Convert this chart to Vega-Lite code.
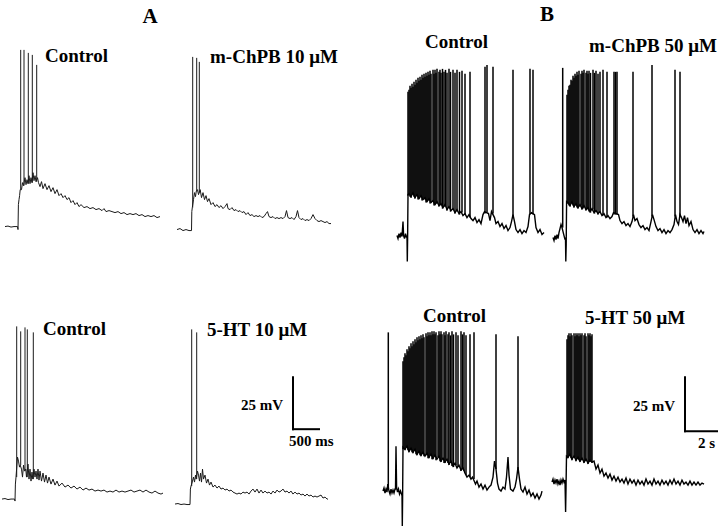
{
"$schema":"https://vega.github.io/schema/vega-lite/v6.json",
"width":721,"height":529,"padding":0,
"autosize":{"type":"fit","contains":"padding"},
"background":"white",
"config":{"view":{"stroke":null}},
"datasets":{
"traces":[
{"tr":"A1","x":5,"y":227},{"tr":"A1","x":8,"y":226.5},{"tr":"A1","x":11,"y":227.5},{"tr":"A1","x":14,"y":227},{"tr":"A1","x":17.5,"y":227},{"tr":"A1","x":18,"y":230},{"tr":"A1","x":18.4,"y":205},{"tr":"A1","x":19,"y":200},{"tr":"A1","x":19.6,"y":196},{"tr":"A1","x":20.2,"y":190},{"tr":"A1","x":21.5,"y":190},{"tr":"A1","x":22.5,"y":183},{"tr":"A1","x":23.5,"y":186},{"tr":"A1","x":25,"y":178},{"tr":"A1","x":26,"y":185},{"tr":"A1","x":27,"y":180},{"tr":"A1","x":28,"y":184},{"tr":"A1","x":29,"y":176},{"tr":"A1","x":30,"y":184},{"tr":"A1","x":31,"y":178},{"tr":"A1","x":32,"y":183},{"tr":"A1","x":33,"y":173},{"tr":"A1","x":34,"y":181},{"tr":"A1","x":35,"y":176},{"tr":"A1","x":36,"y":182},{"tr":"A1","x":37.5,"y":178},{"tr":"A1","x":38.5,"y":183},{"tr":"A1","x":40,"y":187},{"tr":"A1","x":41.5,"y":182},{"tr":"A1","x":43,"y":189},{"tr":"A1","x":45,"y":184},{"tr":"A1","x":47,"y":190},{"tr":"A1","x":49,"y":186},{"tr":"A1","x":51,"y":192},{"tr":"A1","x":53,"y":188},{"tr":"A1","x":55,"y":194},{"tr":"A1","x":57,"y":190},{"tr":"A1","x":59,"y":196},{"tr":"A1","x":61,"y":194},{"tr":"A1","x":63,"y":198},{"tr":"A1","x":65,"y":196},{"tr":"A1","x":67,"y":200},{"tr":"A1","x":69,"y":198},{"tr":"A1","x":71,"y":203},{"tr":"A1","x":73,"y":201},{"tr":"A1","x":75,"y":205},{"tr":"A1","x":77,"y":203},{"tr":"A1","x":79,"y":207},{"tr":"A1","x":81,"y":205},{"tr":"A1","x":84,"y":208},{"tr":"A1","x":87,"y":207},{"tr":"A1","x":90,"y":209},{"tr":"A1","x":93,"y":208},{"tr":"A1","x":96,"y":210},{"tr":"A1","x":99,"y":209},{"tr":"A1","x":102,"y":211},{"tr":"A1","x":104,"y":209},{"tr":"A1","x":106,"y":212},{"tr":"A1","x":109,"y":211},{"tr":"A1","x":112,"y":212},{"tr":"A1","x":115,"y":213},{"tr":"A1","x":118,"y":212},{"tr":"A1","x":121,"y":214},{"tr":"A1","x":124,"y":213},{"tr":"A1","x":127,"y":215},{"tr":"A1","x":130,"y":214},{"tr":"A1","x":133,"y":215},{"tr":"A1","x":136,"y":214},{"tr":"A1","x":139,"y":216},{"tr":"A1","x":142,"y":215},{"tr":"A1","x":145,"y":217},{"tr":"A1","x":148,"y":216},{"tr":"A1","x":151,"y":217},{"tr":"A1","x":154,"y":216},{"tr":"A1","x":157,"y":218},{"tr":"A1","x":160,"y":217},

{"tr":"A2","x":177,"y":230},{"tr":"A2","x":180,"y":229},{"tr":"A2","x":183,"y":231},{"tr":"A2","x":186,"y":230},{"tr":"A2","x":189,"y":231},{"tr":"A2","x":191.5,"y":231},{"tr":"A2","x":191.8,"y":212},{"tr":"A2","x":192.3,"y":208},{"tr":"A2","x":193.5,"y":200},{"tr":"A2","x":194.5,"y":193},{"tr":"A2","x":195.5,"y":197},{"tr":"A2","x":196.2,"y":192},{"tr":"A2","x":197.5,"y":190},{"tr":"A2","x":198.5,"y":195},{"tr":"A2","x":200.2,"y":190},{"tr":"A2","x":201.5,"y":198},{"tr":"A2","x":203,"y":193},{"tr":"A2","x":204.5,"y":200},{"tr":"A2","x":206,"y":196},{"tr":"A2","x":207.5,"y":202},{"tr":"A2","x":209,"y":199},{"tr":"A2","x":211,"y":205},{"tr":"A2","x":213,"y":203},{"tr":"A2","x":215,"y":207},{"tr":"A2","x":217,"y":205},{"tr":"A2","x":219,"y":208},{"tr":"A2","x":221,"y":206},{"tr":"A2","x":223,"y":209},{"tr":"A2","x":225,"y":207},{"tr":"A2","x":227,"y":204},{"tr":"A2","x":228,"y":209},{"tr":"A2","x":230,"y":210},{"tr":"A2","x":232,"y":208},{"tr":"A2","x":234,"y":211},{"tr":"A2","x":236,"y":210},{"tr":"A2","x":238,"y":212},{"tr":"A2","x":240,"y":211},{"tr":"A2","x":242,"y":213},{"tr":"A2","x":244,"y":212},{"tr":"A2","x":246,"y":215},{"tr":"A2","x":248,"y":213},{"tr":"A2","x":250,"y":216},{"tr":"A2","x":252,"y":215},{"tr":"A2","x":254,"y":217},{"tr":"A2","x":256,"y":216},{"tr":"A2","x":258,"y":217},{"tr":"A2","x":260,"y":216},{"tr":"A2","x":262,"y":218},{"tr":"A2","x":264,"y":217},{"tr":"A2","x":266,"y":214},{"tr":"A2","x":267.5,"y":212},{"tr":"A2","x":269,"y":217},{"tr":"A2","x":271,"y":218},{"tr":"A2","x":273,"y":217},{"tr":"A2","x":275,"y":219},{"tr":"A2","x":277,"y":218},{"tr":"A2","x":279,"y":219},{"tr":"A2","x":281,"y":218},{"tr":"A2","x":283,"y":219},{"tr":"A2","x":285,"y":217},{"tr":"A2","x":286.5,"y":211},{"tr":"A2","x":288,"y":218},{"tr":"A2","x":290,"y":219},{"tr":"A2","x":292,"y":218},{"tr":"A2","x":294,"y":220},{"tr":"A2","x":296,"y":217},{"tr":"A2","x":297.5,"y":211},{"tr":"A2","x":299,"y":218},{"tr":"A2","x":301,"y":220},{"tr":"A2","x":303,"y":219},{"tr":"A2","x":305,"y":221},{"tr":"A2","x":307,"y":220},{"tr":"A2","x":309,"y":221},{"tr":"A2","x":311,"y":219},{"tr":"A2","x":313,"y":215},{"tr":"A2","x":315,"y":219},{"tr":"A2","x":317,"y":221},{"tr":"A2","x":319,"y":222},{"tr":"A2","x":321,"y":221},{"tr":"A2","x":323,"y":222},{"tr":"A2","x":325,"y":223},{"tr":"A2","x":327,"y":222},{"tr":"A2","x":329,"y":224},{"tr":"A2","x":331,"y":224},

{"tr":"A3","x":2,"y":500},{"tr":"A3","x":5,"y":499.5},{"tr":"A3","x":8,"y":500.5},{"tr":"A3","x":11,"y":500},{"tr":"A3","x":14.5,"y":500},{"tr":"A3","x":15,"y":502},{"tr":"A3","x":15.4,"y":485},{"tr":"A3","x":16,"y":478},{"tr":"A3","x":17.5,"y":458},{"tr":"A3","x":18.5,"y":462},{"tr":"A3","x":19.5,"y":468},{"tr":"A3","x":20.2,"y":466},{"tr":"A3","x":21.5,"y":470},{"tr":"A3","x":22.5,"y":478},{"tr":"A3","x":23.5,"y":466},{"tr":"A3","x":24.5,"y":472},{"tr":"A3","x":25.8,"y":470},{"tr":"A3","x":26.5,"y":478},{"tr":"A3","x":28,"y":465},{"tr":"A3","x":29,"y":480},{"tr":"A3","x":30,"y":470},{"tr":"A3","x":31,"y":482},{"tr":"A3","x":32,"y":473},{"tr":"A3","x":32.8,"y":480},{"tr":"A3","x":34,"y":470},{"tr":"A3","x":35,"y":478},{"tr":"A3","x":36,"y":472},{"tr":"A3","x":37,"y":480},{"tr":"A3","x":38,"y":470},{"tr":"A3","x":39,"y":481},{"tr":"A3","x":40,"y":472},{"tr":"A3","x":41.5,"y":482},{"tr":"A3","x":43,"y":474},{"tr":"A3","x":44.5,"y":483},{"tr":"A3","x":46,"y":476},{"tr":"A3","x":47.5,"y":484},{"tr":"A3","x":49,"y":478},{"tr":"A3","x":51,"y":485},{"tr":"A3","x":53,"y":480},{"tr":"A3","x":55,"y":486},{"tr":"A3","x":57,"y":482},{"tr":"A3","x":59,"y":487},{"tr":"A3","x":62,"y":484},{"tr":"A3","x":65,"y":488},{"tr":"A3","x":68,"y":486},{"tr":"A3","x":71,"y":489},{"tr":"A3","x":74,"y":487},{"tr":"A3","x":77,"y":490},{"tr":"A3","x":80,"y":488},{"tr":"A3","x":83,"y":491},{"tr":"A3","x":86,"y":489},{"tr":"A3","x":89,"y":491},{"tr":"A3","x":92,"y":490},{"tr":"A3","x":95,"y":492},{"tr":"A3","x":98,"y":491},{"tr":"A3","x":101,"y":492},{"tr":"A3","x":104,"y":491},{"tr":"A3","x":107,"y":493},{"tr":"A3","x":110,"y":492},{"tr":"A3","x":113,"y":493},{"tr":"A3","x":116,"y":491},{"tr":"A3","x":119,"y":493},{"tr":"A3","x":122,"y":492},{"tr":"A3","x":125,"y":493},{"tr":"A3","x":128,"y":492},{"tr":"A3","x":131,"y":491},{"tr":"A3","x":134,"y":493},{"tr":"A3","x":137,"y":492},{"tr":"A3","x":140,"y":491},{"tr":"A3","x":143,"y":493},{"tr":"A3","x":146,"y":491},{"tr":"A3","x":149,"y":493},{"tr":"A3","x":152,"y":494},{"tr":"A3","x":155,"y":492},{"tr":"A3","x":158,"y":494},{"tr":"A3","x":161,"y":495},{"tr":"A3","x":163,"y":494},

{"tr":"A4","x":175,"y":505},{"tr":"A4","x":178,"y":504.5},{"tr":"A4","x":181,"y":505.5},{"tr":"A4","x":184,"y":505},{"tr":"A4","x":187,"y":505.5},{"tr":"A4","x":190,"y":505.5},{"tr":"A4","x":190.4,"y":490},{"tr":"A4","x":191,"y":487},{"tr":"A4","x":192.5,"y":482},{"tr":"A4","x":193.5,"y":478},{"tr":"A4","x":194.5,"y":483},{"tr":"A4","x":195.5,"y":476},{"tr":"A4","x":196.2,"y":480},{"tr":"A4","x":197.5,"y":472},{"tr":"A4","x":198.5,"y":476},{"tr":"A4","x":199.5,"y":482},{"tr":"A4","x":200.5,"y":474},{"tr":"A4","x":201.5,"y":483},{"tr":"A4","x":202.5,"y":470},{"tr":"A4","x":203.5,"y":480},{"tr":"A4","x":205,"y":476},{"tr":"A4","x":206.5,"y":484},{"tr":"A4","x":208,"y":480},{"tr":"A4","x":209.5,"y":486},{"tr":"A4","x":211,"y":483},{"tr":"A4","x":213,"y":488},{"tr":"A4","x":215,"y":486},{"tr":"A4","x":217,"y":489},{"tr":"A4","x":219,"y":487},{"tr":"A4","x":221,"y":490},{"tr":"A4","x":223,"y":489},{"tr":"A4","x":225,"y":491},{"tr":"A4","x":227,"y":490},{"tr":"A4","x":229,"y":492},{"tr":"A4","x":231,"y":491},{"tr":"A4","x":233,"y":493},{"tr":"A4","x":235,"y":494},{"tr":"A4","x":237,"y":495},{"tr":"A4","x":239,"y":494},{"tr":"A4","x":241,"y":495},{"tr":"A4","x":243,"y":493},{"tr":"A4","x":245,"y":494},{"tr":"A4","x":247,"y":493},{"tr":"A4","x":249,"y":495},{"tr":"A4","x":251,"y":492},{"tr":"A4","x":253,"y":490},{"tr":"A4","x":255,"y":493},{"tr":"A4","x":257,"y":490},{"tr":"A4","x":259,"y":494},{"tr":"A4","x":261,"y":491},{"tr":"A4","x":263,"y":494},{"tr":"A4","x":265,"y":492},{"tr":"A4","x":267,"y":494},{"tr":"A4","x":269,"y":493},{"tr":"A4","x":271,"y":495},{"tr":"A4","x":273,"y":492},{"tr":"A4","x":275,"y":494},{"tr":"A4","x":277,"y":491},{"tr":"A4","x":279,"y":493},{"tr":"A4","x":281,"y":492},{"tr":"A4","x":283,"y":490},{"tr":"A4","x":285,"y":493},{"tr":"A4","x":287,"y":492},{"tr":"A4","x":289,"y":494},{"tr":"A4","x":291,"y":492},{"tr":"A4","x":293,"y":495},{"tr":"A4","x":295,"y":493},{"tr":"A4","x":297,"y":495},{"tr":"A4","x":299,"y":494},{"tr":"A4","x":301,"y":496},{"tr":"A4","x":303,"y":495},{"tr":"A4","x":305,"y":497},{"tr":"A4","x":307,"y":495},{"tr":"A4","x":309,"y":497},{"tr":"A4","x":311,"y":496},{"tr":"A4","x":313,"y":498},{"tr":"A4","x":315,"y":497},{"tr":"A4","x":317,"y":498},{"tr":"A4","x":319,"y":497},{"tr":"A4","x":321,"y":496},{"tr":"A4","x":323,"y":499},{"tr":"A4","x":325,"y":498},{"tr":"A4","x":327,"y":500},{"tr":"A4","x":328,"y":500},

{"tr":"B1","x":397,"y":236},{"tr":"B1","x":398,"y":239},{"tr":"B1","x":399,"y":234},{"tr":"B1","x":400,"y":238},{"tr":"B1","x":401,"y":233},{"tr":"B1","x":402,"y":237},{"tr":"B1","x":403,"y":222},{"tr":"B1","x":403.6,"y":236},{"tr":"B1","x":404.5,"y":239},{"tr":"B1","x":405.5,"y":234},{"tr":"B1","x":406.5,"y":238},{"tr":"B1","x":407,"y":236},{"tr":"B1","x":407.3,"y":262},{"tr":"B1","x":407.6,"y":240},{"tr":"B1","x":408,"y":195},{"tr":"B1","x":409,"y":194},{"tr":"B1","x":411,"y":197},{"tr":"B1","x":413,"y":193},{"tr":"B1","x":415,"y":198},{"tr":"B1","x":417,"y":195},{"tr":"B1","x":419,"y":199},{"tr":"B1","x":421,"y":196},{"tr":"B1","x":423,"y":200},{"tr":"B1","x":425,"y":198},{"tr":"B1","x":427,"y":202},{"tr":"B1","x":429,"y":199},{"tr":"B1","x":431,"y":203},{"tr":"B1","x":433,"y":201},{"tr":"B1","x":435,"y":205},{"tr":"B1","x":437,"y":202},{"tr":"B1","x":439,"y":206},{"tr":"B1","x":441,"y":204},{"tr":"B1","x":443,"y":208},{"tr":"B1","x":445,"y":205},{"tr":"B1","x":447,"y":210},{"tr":"B1","x":449,"y":207},{"tr":"B1","x":451,"y":211},{"tr":"B1","x":453,"y":209},{"tr":"B1","x":455,"y":213},{"tr":"B1","x":457,"y":210},{"tr":"B1","x":459,"y":214},{"tr":"B1","x":461,"y":212},{"tr":"B1","x":463,"y":216},{"tr":"B1","x":465,"y":214},{"tr":"B1","x":467,"y":218},{"tr":"B1","x":469,"y":215},{"tr":"B1","x":471,"y":219},{"tr":"B1","x":473,"y":221},{"tr":"B1","x":475,"y":218},{"tr":"B1","x":477,"y":223},{"tr":"B1","x":479,"y":220},{"tr":"B1","x":481,"y":224},{"tr":"B1","x":483,"y":215},{"tr":"B1","x":484.5,"y":212},{"tr":"B1","x":488.5,"y":214},{"tr":"B1","x":490,"y":221},{"tr":"B1","x":491.5,"y":212},{"tr":"B1","x":494.5,"y":218},{"tr":"B1","x":496,"y":224},{"tr":"B1","x":498,"y":222},{"tr":"B1","x":500,"y":227},{"tr":"B1","x":502,"y":224},{"tr":"B1","x":504,"y":229},{"tr":"B1","x":506,"y":226},{"tr":"B1","x":508,"y":231},{"tr":"B1","x":510,"y":228},{"tr":"B1","x":511.5,"y":222},{"tr":"B1","x":513,"y":215},{"tr":"B1","x":514.5,"y":222},{"tr":"B1","x":516,"y":230},{"tr":"B1","x":518,"y":233},{"tr":"B1","x":520,"y":230},{"tr":"B1","x":522,"y":234},{"tr":"B1","x":524,"y":231},{"tr":"B1","x":526,"y":233},{"tr":"B1","x":528,"y":227},{"tr":"B1","x":529.5,"y":215},{"tr":"B1","x":531.5,"y":213},{"tr":"B1","x":534.5,"y":215},{"tr":"B1","x":536,"y":228},{"tr":"B1","x":538,"y":233},{"tr":"B1","x":540,"y":230},{"tr":"B1","x":542,"y":235},{"tr":"B1","x":544,"y":233},

{"tr":"B2","x":553,"y":238},{"tr":"B2","x":554,"y":241},{"tr":"B2","x":555,"y":236},{"tr":"B2","x":556,"y":240},{"tr":"B2","x":557,"y":235},{"tr":"B2","x":558,"y":239},{"tr":"B2","x":559,"y":233},{"tr":"B2","x":560,"y":229},{"tr":"B2","x":561,"y":225},{"tr":"B2","x":562,"y":228},{"tr":"B2","x":563,"y":232},{"tr":"B2","x":564,"y":236},{"tr":"B2","x":565,"y":240},{"tr":"B2","x":565.5,"y":238},{"tr":"B2","x":565.8,"y":262},{"tr":"B2","x":566.2,"y":245},{"tr":"B2","x":566.6,"y":202},{"tr":"B2","x":568,"y":203},{"tr":"B2","x":570,"y":206},{"tr":"B2","x":572,"y":202},{"tr":"B2","x":574,"y":207},{"tr":"B2","x":576,"y":204},{"tr":"B2","x":578,"y":208},{"tr":"B2","x":580,"y":205},{"tr":"B2","x":582,"y":209},{"tr":"B2","x":584,"y":206},{"tr":"B2","x":586,"y":210},{"tr":"B2","x":588,"y":208},{"tr":"B2","x":590,"y":212},{"tr":"B2","x":592,"y":209},{"tr":"B2","x":594,"y":213},{"tr":"B2","x":596,"y":211},{"tr":"B2","x":598,"y":214},{"tr":"B2","x":600,"y":212},{"tr":"B2","x":602,"y":216},{"tr":"B2","x":604,"y":214},{"tr":"B2","x":606,"y":218},{"tr":"B2","x":608,"y":216},{"tr":"B2","x":610,"y":219},{"tr":"B2","x":612,"y":217},{"tr":"B2","x":613.5,"y":213},{"tr":"B2","x":618.5,"y":215},{"tr":"B2","x":620,"y":221},{"tr":"B2","x":622,"y":224},{"tr":"B2","x":624,"y":222},{"tr":"B2","x":626,"y":226},{"tr":"B2","x":628,"y":224},{"tr":"B2","x":630,"y":227},{"tr":"B2","x":632,"y":222},{"tr":"B2","x":633.5,"y":215},{"tr":"B2","x":635,"y":221},{"tr":"B2","x":637,"y":219},{"tr":"B2","x":639,"y":225},{"tr":"B2","x":641,"y":228},{"tr":"B2","x":643,"y":226},{"tr":"B2","x":645,"y":230},{"tr":"B2","x":647,"y":228},{"tr":"B2","x":649,"y":231},{"tr":"B2","x":651,"y":222},{"tr":"B2","x":652.5,"y":215},{"tr":"B2","x":654,"y":220},{"tr":"B2","x":656,"y":227},{"tr":"B2","x":658,"y":231},{"tr":"B2","x":660,"y":229},{"tr":"B2","x":662,"y":233},{"tr":"B2","x":664,"y":230},{"tr":"B2","x":666,"y":234},{"tr":"B2","x":668,"y":231},{"tr":"B2","x":670,"y":233},{"tr":"B2","x":672,"y":230},{"tr":"B2","x":674,"y":225},{"tr":"B2","x":675.5,"y":215},{"tr":"B2","x":677,"y":222},{"tr":"B2","x":678.5,"y":225},{"tr":"B2","x":680,"y":215},{"tr":"B2","x":681.5,"y":218},{"tr":"B2","x":683,"y":222},{"tr":"B2","x":684.5,"y":216},{"tr":"B2","x":686,"y":224},{"tr":"B2","x":687.5,"y":218},{"tr":"B2","x":689,"y":226},{"tr":"B2","x":691,"y":222},{"tr":"B2","x":693,"y":230},{"tr":"B2","x":695,"y":233},{"tr":"B2","x":697,"y":230},{"tr":"B2","x":699,"y":234},{"tr":"B2","x":701,"y":231},{"tr":"B2","x":703,"y":234},{"tr":"B2","x":704,"y":232},

{"tr":"B3","x":383,"y":492},{"tr":"B3","x":384,"y":489},{"tr":"B3","x":385,"y":494},{"tr":"B3","x":386,"y":490},{"tr":"B3","x":387,"y":493},{"tr":"B3","x":387.8,"y":485},{"tr":"B3","x":389,"y":492},{"tr":"B3","x":390,"y":495},{"tr":"B3","x":391,"y":490},{"tr":"B3","x":392,"y":494},{"tr":"B3","x":393,"y":491},{"tr":"B3","x":394,"y":494},{"tr":"B3","x":395,"y":490},{"tr":"B3","x":395.5,"y":490},{"tr":"B3","x":396,"y":447},{"tr":"B3","x":396.6,"y":488},{"tr":"B3","x":397.5,"y":493},{"tr":"B3","x":398.5,"y":490},{"tr":"B3","x":399.5,"y":495},{"tr":"B3","x":400.5,"y":492},{"tr":"B3","x":401.5,"y":495},{"tr":"B3","x":402,"y":494},{"tr":"B3","x":402.3,"y":527},{"tr":"B3","x":402.6,"y":500},{"tr":"B3","x":403,"y":448},{"tr":"B3","x":405,"y":450},{"tr":"B3","x":407,"y":447},{"tr":"B3","x":409,"y":452},{"tr":"B3","x":411,"y":449},{"tr":"B3","x":413,"y":453},{"tr":"B3","x":415,"y":450},{"tr":"B3","x":417,"y":455},{"tr":"B3","x":419,"y":452},{"tr":"B3","x":421,"y":456},{"tr":"B3","x":423,"y":453},{"tr":"B3","x":425,"y":457},{"tr":"B3","x":427,"y":454},{"tr":"B3","x":429,"y":458},{"tr":"B3","x":431,"y":455},{"tr":"B3","x":433,"y":459},{"tr":"B3","x":435,"y":456},{"tr":"B3","x":437,"y":460},{"tr":"B3","x":439,"y":457},{"tr":"B3","x":441,"y":462},{"tr":"B3","x":443,"y":459},{"tr":"B3","x":445,"y":463},{"tr":"B3","x":447,"y":460},{"tr":"B3","x":449,"y":465},{"tr":"B3","x":451,"y":462},{"tr":"B3","x":453,"y":467},{"tr":"B3","x":455,"y":464},{"tr":"B3","x":457,"y":469},{"tr":"B3","x":459,"y":466},{"tr":"B3","x":461,"y":471},{"tr":"B3","x":463,"y":469},{"tr":"B3","x":465,"y":474},{"tr":"B3","x":467,"y":478},{"tr":"B3","x":469,"y":476},{"tr":"B3","x":471,"y":480},{"tr":"B3","x":472.5,"y":478},{"tr":"B3","x":475.5,"y":485},{"tr":"B3","x":477,"y":482},{"tr":"B3","x":479,"y":488},{"tr":"B3","x":481,"y":485},{"tr":"B3","x":483,"y":490},{"tr":"B3","x":485,"y":486},{"tr":"B3","x":487,"y":491},{"tr":"B3","x":489,"y":488},{"tr":"B3","x":491,"y":486},{"tr":"B3","x":493,"y":478},{"tr":"B3","x":494.5,"y":462},{"tr":"B3","x":496,"y":470},{"tr":"B3","x":497.5,"y":484},{"tr":"B3","x":499,"y":490},{"tr":"B3","x":501,"y":492},{"tr":"B3","x":503,"y":488},{"tr":"B3","x":505,"y":490},{"tr":"B3","x":506.5,"y":478},{"tr":"B3","x":508,"y":458},{"tr":"B3","x":509,"y":476},{"tr":"B3","x":510.5,"y":490},{"tr":"B3","x":513,"y":492},{"tr":"B3","x":515,"y":488},{"tr":"B3","x":516.5,"y":480},{"tr":"B3","x":518,"y":468},{"tr":"B3","x":519.5,"y":480},{"tr":"B3","x":521,"y":490},{"tr":"B3","x":523,"y":493},{"tr":"B3","x":525,"y":488},{"tr":"B3","x":527,"y":495},{"tr":"B3","x":529,"y":491},{"tr":"B3","x":531,"y":497},{"tr":"B3","x":533,"y":494},{"tr":"B3","x":535,"y":499},{"tr":"B3","x":537,"y":495},{"tr":"B3","x":539,"y":500},{"tr":"B3","x":541,"y":496},{"tr":"B3","x":542,"y":492},

{"tr":"B4","x":552,"y":483},{"tr":"B4","x":553,"y":480},{"tr":"B4","x":554,"y":485},{"tr":"B4","x":555,"y":481},{"tr":"B4","x":556,"y":484},{"tr":"B4","x":557,"y":480},{"tr":"B4","x":558,"y":485},{"tr":"B4","x":559,"y":482},{"tr":"B4","x":560,"y":486},{"tr":"B4","x":561,"y":481},{"tr":"B4","x":562,"y":484},{"tr":"B4","x":563,"y":480},{"tr":"B4","x":564,"y":483},{"tr":"B4","x":565,"y":481},{"tr":"B4","x":565.6,"y":513},{"tr":"B4","x":566,"y":490},{"tr":"B4","x":566.5,"y":457},{"tr":"B4","x":568,"y":458},{"tr":"B4","x":570,"y":455},{"tr":"B4","x":572,"y":460},{"tr":"B4","x":574,"y":457},{"tr":"B4","x":576,"y":461},{"tr":"B4","x":578,"y":458},{"tr":"B4","x":580,"y":462},{"tr":"B4","x":582,"y":459},{"tr":"B4","x":584,"y":463},{"tr":"B4","x":586,"y":460},{"tr":"B4","x":588,"y":464},{"tr":"B4","x":590,"y":461},{"tr":"B4","x":592,"y":463},{"tr":"B4","x":594,"y":462},{"tr":"B4","x":596,"y":470},{"tr":"B4","x":598,"y":466},{"tr":"B4","x":600,"y":474},{"tr":"B4","x":602,"y":470},{"tr":"B4","x":604,"y":477},{"tr":"B4","x":606,"y":474},{"tr":"B4","x":608,"y":479},{"tr":"B4","x":610,"y":475},{"tr":"B4","x":612,"y":481},{"tr":"B4","x":614,"y":477},{"tr":"B4","x":616,"y":482},{"tr":"B4","x":618,"y":478},{"tr":"B4","x":620,"y":483},{"tr":"B4","x":622,"y":480},{"tr":"B4","x":624,"y":484},{"tr":"B4","x":626,"y":479},{"tr":"B4","x":628,"y":485},{"tr":"B4","x":630,"y":480},{"tr":"B4","x":632,"y":484},{"tr":"B4","x":634,"y":481},{"tr":"B4","x":636,"y":486},{"tr":"B4","x":638,"y":481},{"tr":"B4","x":640,"y":485},{"tr":"B4","x":642,"y":482},{"tr":"B4","x":644,"y":486},{"tr":"B4","x":646,"y":480},{"tr":"B4","x":648,"y":485},{"tr":"B4","x":650,"y":482},{"tr":"B4","x":652,"y":486},{"tr":"B4","x":654,"y":480},{"tr":"B4","x":656,"y":485},{"tr":"B4","x":658,"y":482},{"tr":"B4","x":660,"y":486},{"tr":"B4","x":662,"y":481},{"tr":"B4","x":664,"y":485},{"tr":"B4","x":666,"y":482},{"tr":"B4","x":668,"y":486},{"tr":"B4","x":670,"y":481},{"tr":"B4","x":672,"y":485},{"tr":"B4","x":674,"y":480},{"tr":"B4","x":676,"y":485},{"tr":"B4","x":678,"y":482},{"tr":"B4","x":680,"y":486},{"tr":"B4","x":682,"y":481},{"tr":"B4","x":684,"y":485},{"tr":"B4","x":686,"y":483},{"tr":"B4","x":688,"y":486},{"tr":"B4","x":690,"y":482},{"tr":"B4","x":692,"y":486},{"tr":"B4","x":694,"y":483},{"tr":"B4","x":696,"y":486},{"tr":"B4","x":698,"y":483},{"tr":"B4","x":700,"y":486},{"tr":"B4","x":702,"y":484},{"tr":"B4","x":704,"y":485}
],
"spikes":[
{"x":20.7,"y":50,"y2":190},{"x":24,"y":50,"y2":186},{"x":28.3,"y":53,"y2":184},{"x":32.3,"y":55,"y2":183},{"x":36.7,"y":65,"y2":182},
{"x":192.7,"y":57,"y2":208},{"x":196.7,"y":58,"y2":192},{"x":199.3,"y":62,"y2":193},
{"x":16.7,"y":327,"y2":478},{"x":20.7,"y":332,"y2":466},{"x":25,"y":328,"y2":472},{"x":27.3,"y":330,"y2":478},{"x":33.3,"y":333,"y2":480},
{"x":191.7,"y":330,"y2":487},{"x":196.7,"y":333,"y2":480},
{"x":408,"y":92,"y2":196},{"x":409,"y":90,"y2":195},{"x":410,"y":86,"y2":197},{"x":411,"y":88,"y2":198},{"x":412,"y":84,"y2":195},{"x":413,"y":87,"y2":194},{"x":414,"y":82,"y2":197},{"x":415,"y":85,"y2":199},{"x":416,"y":80,"y2":196},{"x":417,"y":83,"y2":196},{"x":418,"y":78,"y2":200},{"x":419,"y":81,"y2":199},{"x":420,"y":77,"y2":197},{"x":421,"y":80,"y2":197},{"x":422,"y":75,"y2":201},{"x":423,"y":78,"y2":200},{"x":424,"y":74,"y2":199},{"x":425,"y":77,"y2":200},{"x":426,"y":73,"y2":203},{"x":427,"y":76,"y2":202},{"x":428,"y":72,"y2":201},{"x":429,"y":75,"y2":200},{"x":430,"y":71,"y2":204},{"x":431,"y":74,"y2":203},{"x":433,"y":70,"y2":202},{"x":434,"y":74,"y2":206},{"x":435,"y":70,"y2":205},{"x":436,"y":73,"y2":204},{"x":437,"y":69,"y2":203},{"x":439,"y":72,"y2":207},{"x":440,"y":70,"y2":206},{"x":441,"y":73,"y2":205},{"x":442.5,"y":69,"y2":209},{"x":444,"y":72,"y2":207},{"x":445.5,"y":70,"y2":206},{"x":447,"y":73,"y2":211},{"x":449,"y":69,"y2":208},{"x":450.5,"y":72,"y2":212},{"x":453,"y":70,"y2":210},{"x":455,"y":73,"y2":214},{"x":457,"y":70,"y2":211},{"x":459.5,"y":72,"y2":215},{"x":462,"y":71,"y2":213},{"x":465,"y":74,"y2":215},
{"x":470,"y":72,"y2":218},{"x":485,"y":67,"y2":214},{"x":487,"y":65,"y2":213},{"x":493,"y":67,"y2":214},{"x":513,"y":70,"y2":217},{"x":530,"y":69,"y2":215},{"x":533,"y":70,"y2":215},
{"x":562.7,"y":68,"y2":228},
{"x":567,"y":95,"y2":204},{"x":568,"y":90,"y2":204},{"x":569,"y":86,"y2":206},{"x":570,"y":85,"y2":207},{"x":571,"y":80,"y2":204},{"x":572,"y":81,"y2":203},{"x":573,"y":76,"y2":206},{"x":574,"y":78,"y2":208},{"x":575,"y":74,"y2":206},{"x":576,"y":76,"y2":205},{"x":577,"y":72,"y2":208},{"x":578,"y":75,"y2":209},{"x":579,"y":71,"y2":207},{"x":581,"y":74,"y2":206},{"x":582,"y":71,"y2":210},{"x":583,"y":73,"y2":209},{"x":584,"y":70,"y2":207},{"x":586,"y":73,"y2":211},{"x":587,"y":71,"y2":210},{"x":588,"y":74,"y2":209},{"x":589,"y":71,"y2":212},{"x":590.5,"y":73,"y2":213},{"x":593,"y":70,"y2":210},{"x":594.5,"y":73,"y2":214},{"x":596,"y":71,"y2":212},{"x":598,"y":74,"y2":215},{"x":600,"y":72,"y2":213},
{"x":603,"y":70,"y2":216},{"x":607,"y":72,"y2":218},{"x":614,"y":72,"y2":215},{"x":615.5,"y":72,"y2":215},{"x":617,"y":72,"y2":215},{"x":633,"y":72,"y2":217},{"x":652,"y":65,"y2":217},{"x":675,"y":70,"y2":217},{"x":680,"y":72,"y2":217},
{"x":388.3,"y":333,"y2":490},
{"x":403,"y":362,"y2":450},{"x":404,"y":358,"y2":450},{"x":405,"y":354,"y2":451},{"x":406,"y":356,"y2":448},{"x":407,"y":350,"y2":448},{"x":408,"y":352,"y2":451},{"x":409,"y":347,"y2":453},{"x":410,"y":349,"y2":451},{"x":411,"y":344,"y2":450},{"x":412,"y":347,"y2":453},{"x":413,"y":342,"y2":454},{"x":414,"y":345,"y2":452},{"x":415,"y":340,"y2":451},{"x":416,"y":343,"y2":455},{"x":417,"y":338,"y2":456},{"x":418,"y":341,"y2":454},{"x":419,"y":337,"y2":453},{"x":420,"y":340,"y2":456},{"x":421,"y":336,"y2":457},{"x":422,"y":339,"y2":455},{"x":423,"y":335,"y2":454},{"x":424,"y":338,"y2":457},{"x":426,"y":334,"y2":456},{"x":427,"y":337,"y2":455},{"x":428,"y":333,"y2":459},{"x":429,"y":336,"y2":459},{"x":430,"y":333,"y2":456},{"x":431,"y":336,"y2":456},{"x":432,"y":332,"y2":460},{"x":433,"y":335,"y2":460},{"x":434,"y":332,"y2":457},{"x":435,"y":335,"y2":457},{"x":436,"y":333,"y2":461},{"x":438,"y":336,"y2":458},{"x":439,"y":332,"y2":458},{"x":440,"y":335,"y2":462},{"x":441,"y":332,"y2":463},{"x":442,"y":335,"y2":460},{"x":444,"y":333,"y2":464},{"x":445,"y":336,"y2":464},{"x":446,"y":332,"y2":461},{"x":448,"y":335,"y2":464},{"x":449,"y":333,"y2":466},{"x":450.5,"y":336,"y2":463},{"x":452,"y":332,"y2":467},{"x":453.5,"y":335,"y2":468},{"x":456,"y":333,"y2":466},{"x":458,"y":336,"y2":468},{"x":461,"y":332,"y2":472},{"x":462.5,"y":335,"y2":470},{"x":464,"y":333,"y2":472},{"x":466,"y":336,"y2":476},
{"x":470,"y":335,"y2":478},{"x":474,"y":333,"y2":480},{"x":496,"y":335,"y2":470},{"x":518,"y":337,"y2":470},
{"x":567,"y":340,"y2":459},{"x":568,"y":336,"y2":459},{"x":569,"y":334,"y2":457},{"x":570,"y":337,"y2":456},{"x":571,"y":334,"y2":459},{"x":572,"y":336,"y2":461},{"x":574,"y":334,"y2":458},{"x":575,"y":337,"y2":458},{"x":576,"y":334,"y2":462},{"x":577,"y":336,"y2":460},{"x":578,"y":334,"y2":459},{"x":579,"y":337,"y2":461},{"x":580,"y":334,"y2":463},{"x":581,"y":336,"y2":461},{"x":582,"y":334,"y2":460},{"x":584,"y":336,"y2":464},{"x":585,"y":334,"y2":462},{"x":586,"y":337,"y2":461},{"x":588,"y":334,"y2":465},{"x":589,"y":336,"y2":463},{"x":590,"y":334,"y2":462},{"x":591,"y":337,"y2":463},{"x":592,"y":335,"y2":464}
],
"bars":[
{"x":293,"y":378,"x2":293,"y2":430},{"x":293,"y":430,"x2":319,"y2":430},
{"x":685,"y":378,"x2":685,"y2":432},{"x":685,"y":432,"x2":717,"y2":432}
],
"labels":[
{"kind":"panel","text":"A","x":150,"y":23},
{"kind":"panel","text":"B","x":547,"y":21},
{"kind":"cond","text":"Control","x":45,"y":62},
{"kind":"cond","text":"m-ChPB 10 μM","x":210,"y":63},
{"kind":"cond","text":"Control","x":425,"y":48},
{"kind":"cond","text":"m-ChPB 50 μM","x":589,"y":52},
{"kind":"cond","text":"Control","x":43,"y":336},
{"kind":"cond","text":"5-HT 10 μM","x":207,"y":337},
{"kind":"cond","text":"Control","x":423,"y":323},
{"kind":"cond","text":"5-HT 50 μM","x":585,"y":325},
{"kind":"scale","text":"25 mV","x":241,"y":411},
{"kind":"scale","text":"500 ms","x":289,"y":447},
{"kind":"scale","text":"25 mV","x":633,"y":412},
{"kind":"scale","text":"2 s","x":698,"y":449}
]
},
"layer":[
{"data":{"name":"traces"},"transform":[{"filter":"datum.x < 370"}],"mark":{"type":"line","color":"#1a1a1a","strokeWidth":1,"interpolate":"linear"},
 "encoding":{
  "x":{"field":"x","type":"quantitative","scale":{"domain":[0,721],"nice":false,"zero":false},"axis":null},
  "y":{"field":"y","type":"quantitative","scale":{"domain":[0,529],"reverse":true,"nice":false,"zero":false},"axis":null},
  "detail":{"field":"tr"}}},
{"data":{"name":"traces"},"transform":[{"filter":"datum.x >= 370"}],"mark":{"type":"line","color":"#000000","strokeWidth":1.4,"interpolate":"linear"},
 "encoding":{
  "x":{"field":"x","type":"quantitative"},
  "y":{"field":"y","type":"quantitative"},
  "detail":{"field":"tr"}}},
{"data":{"name":"spikes"},"transform":[{"filter":"datum.x < 370"}],"mark":{"type":"rule","color":"#1a1a1a","strokeWidth":1},
 "encoding":{
  "x":{"field":"x","type":"quantitative"},
  "y":{"field":"y","type":"quantitative"},
  "y2":{"field":"y2"}}},
{"data":{"name":"spikes"},"transform":[{"filter":"datum.x >= 370"}],"mark":{"type":"rule","color":"#000000","strokeWidth":1.5},
 "encoding":{
  "x":{"field":"x","type":"quantitative"},
  "y":{"field":"y","type":"quantitative"},
  "y2":{"field":"y2"}}},
{"data":{"name":"bars"},"mark":{"type":"rule","color":"#000000","strokeWidth":2,"strokeCap":"square"},
 "encoding":{
  "x":{"field":"x","type":"quantitative"},
  "y":{"field":"y","type":"quantitative"},
  "x2":{"field":"x2"},
  "y2":{"field":"y2"}}},
{"data":{"name":"labels"},"transform":[{"filter":"datum.kind === 'panel'"}],
 "mark":{"type":"text","font":"Liberation Serif","fontWeight":"bold","fontSize":21,"align":"center","baseline":"alphabetic","color":"#000000"},
 "encoding":{"x":{"field":"x","type":"quantitative"},"y":{"field":"y","type":"quantitative"},"text":{"field":"text"}}},
{"data":{"name":"labels"},"transform":[{"filter":"datum.kind === 'cond'"}],
 "mark":{"type":"text","font":"Liberation Serif","fontWeight":"bold","fontSize":19,"align":"left","baseline":"alphabetic","color":"#000000"},
 "encoding":{"x":{"field":"x","type":"quantitative"},"y":{"field":"y","type":"quantitative"},"text":{"field":"text"}}},
{"data":{"name":"labels"},"transform":[{"filter":"datum.kind === 'scale'"}],
 "mark":{"type":"text","font":"Liberation Serif","fontWeight":"bold","fontSize":15,"align":"left","baseline":"alphabetic","color":"#000000"},
 "encoding":{"x":{"field":"x","type":"quantitative"},"y":{"field":"y","type":"quantitative"},"text":{"field":"text"}}}
]
}
